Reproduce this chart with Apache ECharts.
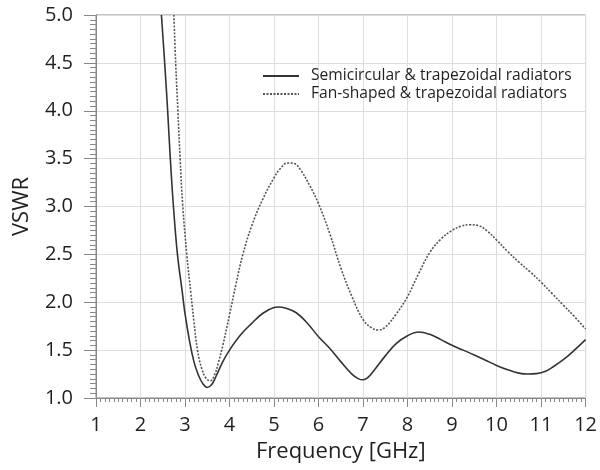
<!DOCTYPE html>
<html>
<head>
<meta charset="utf-8">
<script src="https://cdn.jsdelivr.net/npm/echarts@6/dist/echarts.min.js"></script>
<style>html,body{margin:0;padding:0;background:#fff}#c{width:600px;height:470px}</style>
</head>
<body>
<div id="c"></div>
<script>
const seriesNames = ['Semicircular & trapezoidal radiators', 'Fan-shaped & trapezoidal radiators'];
const freqSemi = [2.47,2.55,2.61,2.67,2.74,2.83,2.94,3.0,3.1,3.2,3.3,3.4,3.5,3.6,3.7,3.85,4.0,4.25,4.5,4.75,5.0,5.1,5.25,5.5,5.75,6.0,6.25,6.5,6.75,6.9,7.0,7.1,7.25,7.5,7.75,8.0,8.25,8.5,8.75,9.0,9.25,9.5,9.75,10.0,10.25,10.5,10.7,10.9,11.1,11.25,11.5,11.75,12.0];
const vswrSemi = [5.0,4.45,4.0,3.5,3.0,2.5,2.1,1.88,1.6,1.38,1.24,1.15,1.11,1.14,1.23,1.38,1.5,1.66,1.78,1.885,1.945,1.95,1.94,1.89,1.78,1.64,1.52,1.38,1.25,1.20,1.19,1.21,1.29,1.44,1.57,1.65,1.69,1.665,1.61,1.55,1.50,1.45,1.395,1.34,1.295,1.26,1.25,1.255,1.28,1.32,1.40,1.50,1.61];
const freqFan = [2.75,2.79,2.84,2.89,2.95,3.04,3.13,3.2,3.28,3.38,3.48,3.57,3.67,3.75,3.85,4.0,4.15,4.3,4.5,4.75,5.0,5.15,5.3,5.45,5.6,5.8,6.0,6.25,6.5,6.75,7.0,7.2,7.35,7.5,7.75,8.0,8.25,8.5,8.75,9.0,9.2,9.4,9.6,9.8,10.0,10.25,10.5,10.75,11.0,11.25,11.5,11.75,12.0];
const vswrFan = [5.0,4.5,4.0,3.5,3.0,2.5,2.1,1.8,1.5,1.3,1.2,1.18,1.25,1.37,1.55,1.87,2.2,2.5,2.8,3.08,3.3,3.40,3.455,3.45,3.38,3.22,3.03,2.72,2.36,2.06,1.82,1.73,1.71,1.74,1.88,2.06,2.30,2.52,2.66,2.75,2.795,2.81,2.80,2.74,2.65,2.53,2.42,2.32,2.21,2.09,1.97,1.85,1.72];
const xTicks = [1,2,3,4,5,6,7,8,9,10,11,12];
const yTicks = [1.0,1.5,2.0,2.5,3.0,3.5,4.0,4.5,5.0];

const pair = (xs, ys) => xs.map((x, i) => [x, ys[i]]);
const font = "'Open Sans', 'Noto Sans', sans-serif";
const chart = echarts.init(document.getElementById('c'));
chart.setOption({
  animation: false,
  backgroundColor: '#fff',
  grid: { left: 96, right: 11, top: 15, bottom: 72, show: true, borderColor: '#888', borderWidth: 1 },
  legend: {
    left: 257, top: 63, orient: 'vertical', itemGap: 2, itemWidth: 36, itemHeight: 10,
    itemStyle: { opacity: 0 },
    textStyle: { fontFamily: font, fontSize: 15.6, color: '#231f20', padding: [0,0,0,7] },
    data: seriesNames
  },
  xAxis: {
    type: 'value', min: xTicks[0], max: xTicks[xTicks.length-1], interval: 1,
    name: 'Frequency [GHz]', nameLocation: 'middle', nameGap: 43,
    nameTextStyle: { fontFamily: font, fontSize: 22, color: '#231f20' },
    axisLine: { show: true, lineStyle: { color: '#888' } },
    axisTick: { show: true, length: 9, lineStyle: { color: '#888' } },
    minorTick: { show: true, splitNumber: 10, length: 4, lineStyle: { color: '#888' } },
    axisLabel: { fontFamily: font, fontSize: 20, color: '#231f20', margin: 17 },
    splitLine: { show: true, lineStyle: { color: '#ddd' } }
  },
  yAxis: {
    type: 'value', min: yTicks[0], max: yTicks[yTicks.length-1], interval: 0.5,
    name: 'VSWR', nameLocation: 'middle', nameGap: 63,
    nameTextStyle: { fontFamily: font, fontSize: 22, color: '#231f20' },
    axisLine: { show: true, lineStyle: { color: '#888' } },
    axisTick: { show: true, length: 12, lineStyle: { color: '#888' } },
    minorTick: { show: true, splitNumber: 10, length: 6, lineStyle: { color: '#888' } },
    axisLabel: { fontFamily: font, fontSize: 20, color: '#231f20', margin: 23, formatter: v => v.toFixed(1) },
    splitLine: { show: true, lineStyle: { color: '#ddd' } }
  },
  series: [
    { name: seriesNames[0], type: 'line', data: pair(freqSemi, vswrSemi), smooth: 0.4, symbol: 'none', clip: true,
      lineStyle: { color: '#333', width: 1.6, type: 'solid' }, itemStyle: { color: '#333' } },
    { name: seriesNames[1], type: 'line', data: pair(freqFan, vswrFan), smooth: 0.4, symbol: 'none', clip: true,
      lineStyle: { color: '#555', width: 1.6, type: [2, 1.5] }, itemStyle: { color: '#555' } }
  ]
});
</script>
</body>
</html>
